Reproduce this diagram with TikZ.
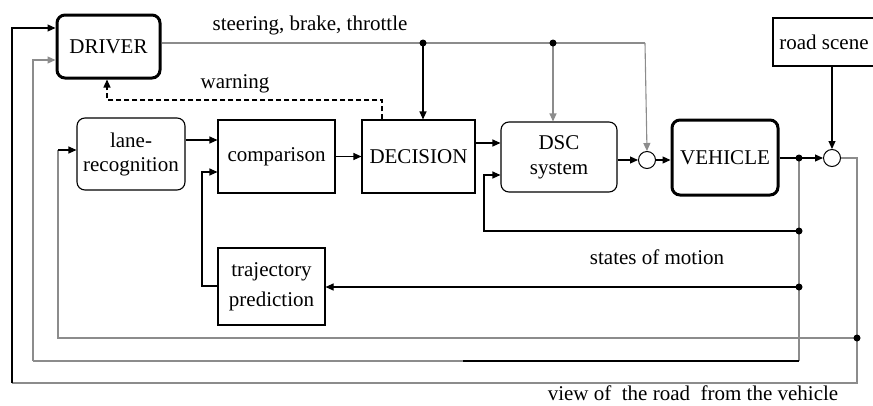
\documentclass[tikz,border=0pt]{standalone}
\usepackage{fontspec}
\newfontfamily\tms{Liberation Serif}
\usetikzlibrary{arrows.meta,calc}
\begin{document}
\begin{tikzpicture}[x=1pt,y=-1pt,
  font=\fontsize{21}{25}\selectfont,
  blk/.style={draw=black,line width=1.1pt,inner sep=0pt,align=center},
  rbox/.style={blk,rounded corners=8pt},
  thickbox/.style={draw=black,line width=3pt,rounded corners=8pt,inner sep=0pt,align=center},
  sum/.style={circle,draw=black,line width=1pt,minimum size=17pt,inner sep=0pt},
  ln/.style={line width=1.1pt,draw=black},
  gl/.style={line width=1.1pt,draw=black!45},
  arr/.style={-{Triangle[length=8pt,width=7pt]}},
  jdot/.style={circle,fill=black,minimum size=7pt,inner sep=0pt},
  lbl/.style={inner sep=0pt}
]
\useasboundingbox (0,0) rectangle (873,405);

% boxes
\node[thickbox,minimum width=103pt,minimum height=63pt] (driver) at (108.5,46.5) {\tms DRIVER};
\node[rbox,minimum width=108pt,minimum height=72pt] (lane) at (131,154) {\tms lane-\\[-1pt]\tms recognition};
\node[blk,minimum width=117pt,minimum height=73pt] (cmp) at (276.5,156.5) {\tms comparison};
\node[blk,minimum width=113pt,minimum height=73pt] (dec) at (418.5,156.5) {\tms DECISION};
\node[rbox,minimum width=116pt,minimum height=70pt] (dsc) at (559,157) {\tms DSC\\\tms system};
\node[sum] (s1) at (647,160) {};
\node[thickbox,minimum width=106pt,minimum height=75pt] (veh) at (725,157.5) {\tms VEHICLE};
\node[sum] (s2) at (832,158) {};
\node[blk,minimum width=102pt,minimum height=48pt] (road) at (824,42) {\tms road scene};
\node[blk,minimum width=107pt,minimum height=77pt] (traj) at (271.5,286.5) {\tms trajectory\\[5pt]\tms prediction};

% labels
\node[lbl] (l1) at (310,25) {\tms steering, brake, throttle};
\node[lbl] (l2) at (235,84) {\tms warning};
\node[lbl] (l3) at (657,257) {\tms states of motion};
\node[lbl,anchor=base] (l4) at (693,400) {\tms view of\ \ the road\ \ from the vehicle};

% junction coordinates
\coordinate (dA) at (423,43);
\coordinate (dB) at (553,43);
\coordinate (tR) at (645,43);
\coordinate (dV) at (799,158);
\coordinate (dS) at (799,231);
\coordinate (dT) at (799,287);
\coordinate (dR) at (857,338);
\coordinate (rR) at (857,158);
\coordinate (rB) at (857,383);
\coordinate (c1) at (12,383);
\coordinate (c2) at (12,28);
\coordinate (m1) at (799,361);
\coordinate (m2) at (33,361);
\coordinate (m3) at (33,60);
\coordinate (k1) at (58,338);
\coordinate (k2) at (58,150);
\coordinate (w1) at (382,100);
\coordinate (w2) at (107,100);
\coordinate (p1) at (484,231);
\coordinate (p2) at (484,175);
\coordinate (q1) at (202,286);
\coordinate (q2) at (202,172);

% top bus
\draw[gl] (driver.east |- dA) -- (tR);
\draw[gl,arr] (tR) -- (s1.north);
\draw[ln,arr] (dA) -- (dA |- dec.north);
\draw[gl,arr] (dB) -- (dB |- dsc.north);

% warning
\draw[ln,dashed,dash pattern=on 5pt off 3pt,arr] (w1 |- dec.north) -- (w1) -- (w2) -- (driver.south -| w2);

% main chain
\draw[ln,arr] (lane.east |- 0,140) -- (cmp.west |- 0,140);
\draw[ln,arr] (cmp.east) -- (dec.west |- cmp.east);
\draw[ln,arr] (dec.east |- 0,143) -- (dsc.west |- 0,143);
\draw[ln,arr] (dsc.east |- s1) -- (s1.west);
\draw[ln,arr] (s1.east) -- (veh.west |- s1);
\draw[ln,arr] (veh.east |- dV) -- (s2.west);
\draw[ln,arr] (road.south -| s2) -- (s2.north);

% outer loop: view of the road
\draw[gl] (s2.east) -- (rR) -- (rB) -- (c1);
\draw[ln,arr] (c1) -- (c2) -- (driver.west |- c2);
\draw[gl] (dR) -- (k1) -- (k2);
\draw[ln,arr] (k2) -- (lane.west |- k2);

% states of motion loop
\draw[gl] (dV) -- (m1);
\draw[ln] (m1) -- (463,361);
\draw[gl] (463,361) -- (m2);
\draw[gl,arr] (m2) -- (m3) -- (driver.west |- m3);
\draw[ln,arr] (dS) -- (p1) -- (p2) -- (dsc.west |- p2);
\draw[ln,arr] (dT) -- (traj.east |- dT);
\draw[ln,arr] (traj.west |- q1) -- (q1) -- (q2) -- (cmp.west |- q2);

% dots
\foreach \p in {dA,dB,dV,dS,dT,dR} \node[jdot] at (\p) {};
\end{tikzpicture}
\end{document}
